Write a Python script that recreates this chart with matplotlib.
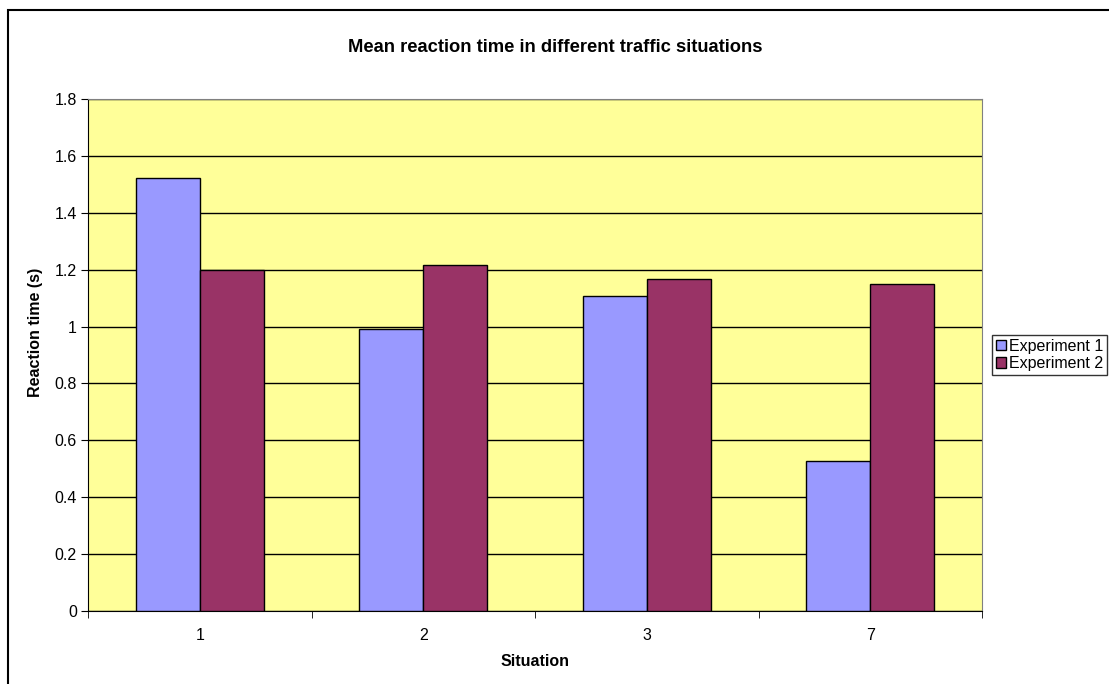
import matplotlib
matplotlib.use('Agg')
import matplotlib.pyplot as plt
import numpy as np
from matplotlib.patches import Rectangle

plt.rcParams['font.family'] = ['Liberation Sans', 'DejaVu Sans']

# mean reaction time per situation (s)
situations = ['1', '2', '3', '7']
experiment_1 = [1.524, 0.991, 1.109, 0.529]
experiment_2 = [1.199, 1.217, 1.166, 1.149]
series_names = ['Experiment 1', 'Experiment 2']
y_ticks = [0, 0.2, 0.4, 0.6, 0.8, 1.0, 1.2, 1.4, 1.6, 1.8]
y_tick_labels = ['0', '0.2', '0.4', '0.6', '0.8', '1', '1.2', '1.4', '1.6', '1.8']

fig = plt.figure(figsize=(11.09, 6.84), dpi=100)
fig.patch.set_facecolor('white')

# chart border (runs off the right and bottom edge)
fig.patches.append(Rectangle((8 / 1109, -0.05), 1.2, (684 - 10) / 684 + 0.05,
                             transform=fig.transFigure, fill=False,
                             edgecolor='black', linewidth=1.5, clip_on=False))

ax = fig.add_axes([88 / 1109, (684 - 611) / 684, (982 - 88) / 1109, (611 - 99) / 684])
ax.set_facecolor('#FFFF99')

x = np.arange(len(situations))
width = 1 / 3.5
ax.bar(x - width / 2, experiment_1, width, color='#9999FF', edgecolor='black',
       linewidth=1, label=series_names[0], zorder=3)
ax.bar(x + width / 2, experiment_2, width, color='#993366', edgecolor='black',
       linewidth=1, label=series_names[1], zorder=3)

ax.set_xlim(-0.5, len(situations) - 0.5)
ax.set_ylim(0, 1.8)
ax.set_yticks(y_ticks)
ax.set_yticklabels(y_tick_labels, fontsize=11.5)
ax.yaxis.grid(True, color='black', linewidth=1, zorder=1)
ax.set_axisbelow(True)

# category labels in the middle, tick marks between groups
ax.set_xticks(x)
ax.set_xticklabels(situations, fontsize=11.5)
ax.tick_params(axis='x', which='major', length=0, pad=12)
ax.set_xticks(np.arange(-0.5, len(situations)), minor=True)
ax.tick_params(axis='x', which='minor', length=5, direction='out', color='black')
ax.tick_params(axis='y', length=5, direction='out', color='black', pad=3)

for side in ['top', 'right']:
    ax.spines[side].set_color('#808080')
for side in ['left', 'bottom']:
    ax.spines[side].set_color('black')

ax.set_xlabel('Situation', fontsize=11.5, fontweight='bold', labelpad=8)
ax.set_ylabel('Reaction time (s)', fontsize=11.5, fontweight='bold')
ax.yaxis.set_label_coords(-0.05, 0.545)
fig.text(555 / 1109, 1 - 48 / 684, 'Mean reaction time in different traffic situations',
         ha='center', va='center', fontsize=13.2, fontweight='bold')

leg = ax.legend(loc='center left', bbox_to_anchor=(992 / 1109, 1 - 355 / 684),
                bbox_transform=fig.transFigure, fontsize=11.5, frameon=True,
                fancybox=False, edgecolor='black', handlelength=0.6,
                handleheight=0.6, handletextpad=0.2, borderpad=0.25,
                labelspacing=0.15, borderaxespad=0)
leg.get_frame().set_linewidth(1)

fig.savefig('out.png', dpi=100)
